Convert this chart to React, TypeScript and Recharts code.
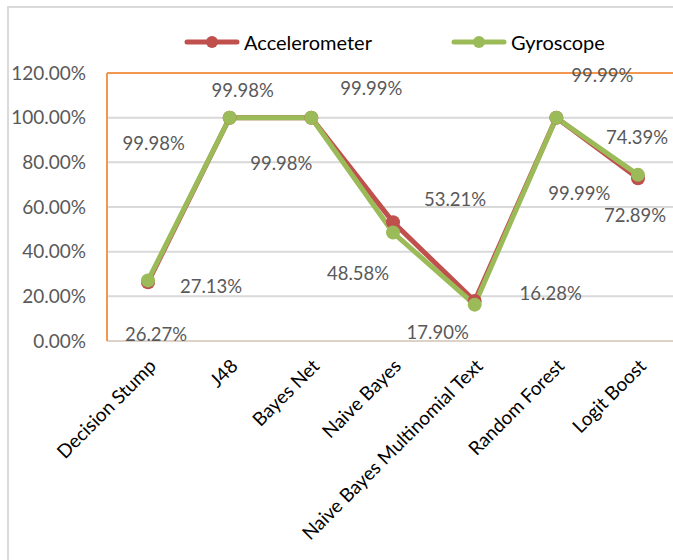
import React from 'react';
import { LineChart, Line, XAxis, YAxis, CartesianGrid, ReferenceLine } from 'recharts';

const CATEGORIES = [
  'Decision Stump',
  'J48',
  'Bayes Net',
  'Naive Bayes',
  'Naive Bayes Multinomial Text',
  'Random Forest',
  'Logit Boost',
];
const ACCELEROMETER = [26.27, 99.98, 99.99, 53.21, 17.9, 99.99, 72.89];
const GYROSCOPE = [27.13, 99.98, 99.98, 48.58, 16.28, 99.99, 74.39];
const Y_TICKS = [0, 20, 40, 60, 80, 100, 120];

// label nudges (dx, dy) from each point, the labels were dragged around by hand
const ACC_LABEL_SHIFT = [[8, 52], [13, -28], [60, -30], [62, -23], [-37, 31], [46, -43], [-3, 37]];
const GYRO_LABEL_SHIFT = [[63, 6], [-76, 25], [-30, 45], [-35, 40], [76, -12], [23, 75], [-1, -38]];

const data = CATEGORIES.map((name, i) => ({
  name,
  acc: ACCELEROMETER[i],
  gyro: GYROSCOPE[i],
}));

const RED = '#C0504D';
const GREEN = '#9BBB59';
const ORANGE = '#F2984E';
const FONT = 'Lato, "Noto Sans", sans-serif';

const pct = (v: number) => `${v.toFixed(2)}%`;

function makeLabel(shift: number[][]) {
  return (props: any) => {
    const { x, y, value, index } = props;
    const [dx, dy] = shift[index] || [0, 0];
    return (
      <text
        key={`lbl-${index}`}
        x={x + dx}
        y={y + dy}
        textAnchor="middle"
        dominantBaseline="central"
        fontSize={18.5}
        fontFamily={FONT}
        fill="#595959"
      >
        {pct(value)}
      </text>
    );
  };
}

function CategoryTick(props: any) {
  const { x, y, payload } = props;
  const tx = x + 4;
  const ty = y + 13;
  return (
    <text
      x={tx}
      y={ty}
      textAnchor="end"
      dominantBaseline="central"
      fontSize={19}
      fontFamily={FONT}
      fill="#000"
      transform={`rotate(-45, ${tx}, ${ty})`}
    >
      {payload.value}
    </text>
  );
}

function LegendItem({ color, label }: { color: string; label: string }) {
  return (
    <div style={{ display: 'flex', alignItems: 'center' }}>
      <svg width={56} height={16}>
        <line x1={3} y1={8} x2={53} y2={8} stroke={color} strokeWidth={5} strokeLinecap="round" />
        <circle cx={28} cy={8} r={6} fill={color} />
      </svg>
      <span style={{ marginLeft: 4, fontSize: 20, color: '#000' }}>{label}</span>
    </div>
  );
}

export default function App() {
  return (
    <div
      style={{
        position: 'absolute',
        left: 0,
        top: 0,
        width: 673,
        height: 560,
        overflow: 'hidden',
        background: '#fff',
        fontFamily: FONT,
      }}
    >
      <div
        style={{
          position: 'absolute',
          left: 7,
          top: 6,
          width: 720,
          height: 620,
          borderLeft: '2px solid #D9D9D9',
          borderTop: '2px solid #D9D9D9',
        }}
      />
      <div style={{ position: 'absolute', top: 30, left: 184, display: 'flex', gap: 79 }}>
        <LegendItem color={RED} label="Accelerometer" />
        <LegendItem color={GREEN} label="Gyroscope" />
      </div>
      <LineChart
        width={690}
        height={560}
        data={data}
        margin={{ top: 73, right: 11, left: 0, bottom: 0 }}
        style={{ position: 'absolute', left: 0, top: 0 }}
      >
        <CartesianGrid vertical={false} stroke="#D9D9D9" strokeWidth={2} />
        <XAxis
          dataKey="name"
          interval={0}
          height={219}
          padding={{ left: 41, right: 41 }}
          tick={<CategoryTick />}
          tickLine={false}
          axisLine={{ stroke: '#DCD2C6', strokeWidth: 2 }}
        />
        <YAxis
          domain={[0, 120]}
          ticks={Y_TICKS}
          width={107}
          tickFormatter={pct}
          tick={{ fontSize: 19, fill: '#595959', fontFamily: FONT }}
          tickLine={false}
          tickSize={0}
          tickMargin={21}
          axisLine={{ stroke: ORANGE, strokeWidth: 2 }}
        />
        <ReferenceLine y={120} stroke={ORANGE} strokeWidth={2} />
        <Line
          dataKey="acc"
          stroke={RED}
          strokeWidth={5}
          dot={{ r: 7, fill: RED, stroke: 'none' }}
          label={makeLabel(ACC_LABEL_SHIFT)}
          isAnimationActive={false}
        />
        <Line
          dataKey="gyro"
          stroke={GREEN}
          strokeWidth={5}
          dot={{ r: 7, fill: GREEN, stroke: 'none' }}
          label={makeLabel(GYRO_LABEL_SHIFT)}
          isAnimationActive={false}
        />
      </LineChart>
    </div>
  );
}
